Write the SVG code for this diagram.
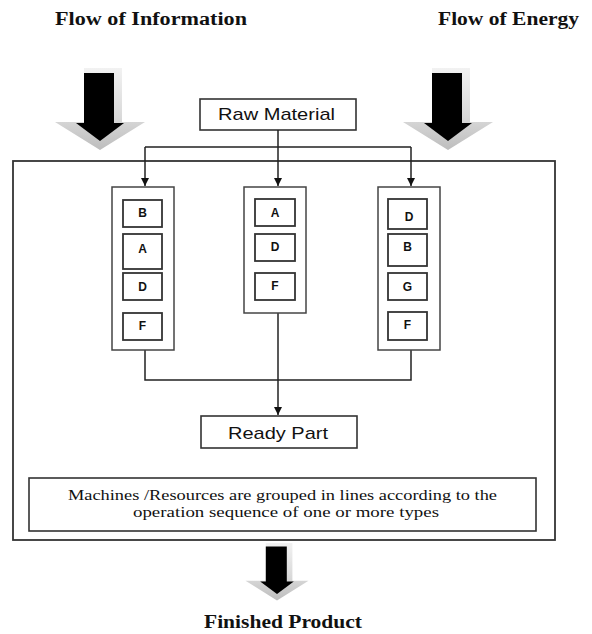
<svg xmlns="http://www.w3.org/2000/svg" width="592" height="634" viewBox="0 0 592 634">
<defs>
<linearGradient id="shade" x1="0" y1="0" x2="0" y2="1">
<stop offset="0" stop-color="#f2f2f2"/>
<stop offset="0.6" stop-color="#d9d9d9"/>
<stop offset="1" stop-color="#bdbdbd"/>
</linearGradient>
<g id="bigArrow">
<polygon points="-16,0 22,0 22,54 45,54 0,82 -45,54 -16,54" fill="url(#shade)"/>
<polygon points="-16,5 14,5 14,55 24,55 0,73 -24,55 -16,55" fill="#000"/>
</g>
<marker id="ah" viewBox="0 0 10 10" refX="10" refY="5" markerWidth="8" markerHeight="8" markerUnits="userSpaceOnUse" orient="auto">
<path d="M0,0 L10,5 L0,10 Z" fill="#111"/>
</marker>
</defs>
<style>
.title{font-family:"Liberation Serif",serif;font-weight:bold;font-size:18.5px;fill:#111}
.lbl{font-family:"Liberation Sans",Arial,sans-serif;font-size:17px;fill:#111}
.let{font-family:"Liberation Sans",Arial,sans-serif;font-weight:bold;font-size:12px;fill:#111;text-anchor:middle}
.note{font-family:"Liberation Serif",serif;font-size:15.5px;fill:#111}
.box{fill:#fff;stroke:#333;stroke-width:1.6}
.col{fill:#fff;stroke:#444;stroke-width:1.5}
.cell{fill:#fff;stroke:#333;stroke-width:1.8}
.con{fill:none;stroke:#222;stroke-width:1.5}
</style>
<rect width="592" height="634" fill="#fff"/>

<g id="titles">
<text class="title" x="55" y="25" textLength="192" lengthAdjust="spacingAndGlyphs">Flow of Information</text>
<text class="title" x="438" y="25" textLength="141" lengthAdjust="spacingAndGlyphs">Flow of Energy</text>
</g>

<g id="arrow-information"><use href="#bigArrow" transform="translate(100,68)"/></g>
<g id="arrow-energy"><use href="#bigArrow" transform="translate(448,68)"/></g>

<g id="frame"><rect x="13" y="161" width="542" height="379" fill="none" stroke="#333" stroke-width="1.8"/></g>

<g id="raw-material">
<rect class="box" x="200" y="99" width="156" height="31"/>
<text class="lbl" x="218" y="120" textLength="117" lengthAdjust="spacingAndGlyphs">Raw Material</text>
</g>

<g id="connectors">
<path class="con" d="M278,130 V147 M145,147 H411"/>
<path class="con" d="M145,147 V186" marker-end="url(#ah)"/>
<path class="con" d="M278,147 V186" marker-end="url(#ah)"/>
<path class="con" d="M411,147 V186" marker-end="url(#ah)"/>
<path class="con" d="M145,350 V380 H411 V350"/>
<path class="con" d="M278,313 V415" marker-end="url(#ah)"/>
</g>

<g id="line-1">
<rect class="col" x="112" y="187" width="62" height="163"/>
<rect class="cell" x="123" y="200" width="39" height="27"/><text class="let" x="142.5" y="217">B</text>
<rect class="cell" x="123" y="234" width="39" height="35"/><text class="let" x="142.5" y="253">A</text>
<rect class="cell" x="123" y="273" width="39" height="27"/><text class="let" x="142.5" y="291">D</text>
<rect class="cell" x="123" y="313" width="39" height="27"/><text class="let" x="142.5" y="330">F</text>
</g>

<g id="line-2">
<rect class="col" x="244" y="187" width="62" height="126"/>
<rect class="cell" x="255" y="199" width="40" height="27"/><text class="let" x="275" y="217">A</text>
<rect class="cell" x="255" y="234" width="40" height="27"/><text class="let" x="275" y="251">D</text>
<rect class="cell" x="255" y="273" width="40" height="27"/><text class="let" x="275" y="290">F</text>
</g>

<g id="line-3">
<rect class="col" x="378" y="187" width="62" height="163"/>
<rect class="cell" x="388" y="199" width="39" height="30" stroke-width="2.4"/><text class="let" x="409" y="221">D</text>
<rect class="cell" x="388" y="234" width="39" height="32"/><text class="let" x="407.5" y="251">B</text>
<rect class="cell" x="388" y="273" width="39" height="27"/><text class="let" x="407.5" y="291">G</text>
<rect class="cell" x="388" y="312" width="39" height="28"/><text class="let" x="407.5" y="329">F</text>
</g>

<g id="ready-part">
<rect class="box" x="201" y="416" width="156" height="32"/>
<text class="lbl" x="228" y="439" textLength="100" lengthAdjust="spacingAndGlyphs">Ready Part</text>
</g>

<g id="note">
<rect class="box" x="29" y="478" width="507" height="53"/>
<text class="note" x="68" y="500" textLength="429" lengthAdjust="spacingAndGlyphs">Machines /Resources are grouped in lines according to the</text>
<text class="note" x="133" y="517" textLength="306" lengthAdjust="spacingAndGlyphs">operation sequence of one or more types</text>
</g>

<g id="arrow-output"><use href="#bigArrow" transform="translate(277,543) scale(0.7)"/></g>

<g id="finished-product">
<text class="title" x="204" y="628" textLength="158" lengthAdjust="spacingAndGlyphs">Finished Product</text>
</g>
</svg>
